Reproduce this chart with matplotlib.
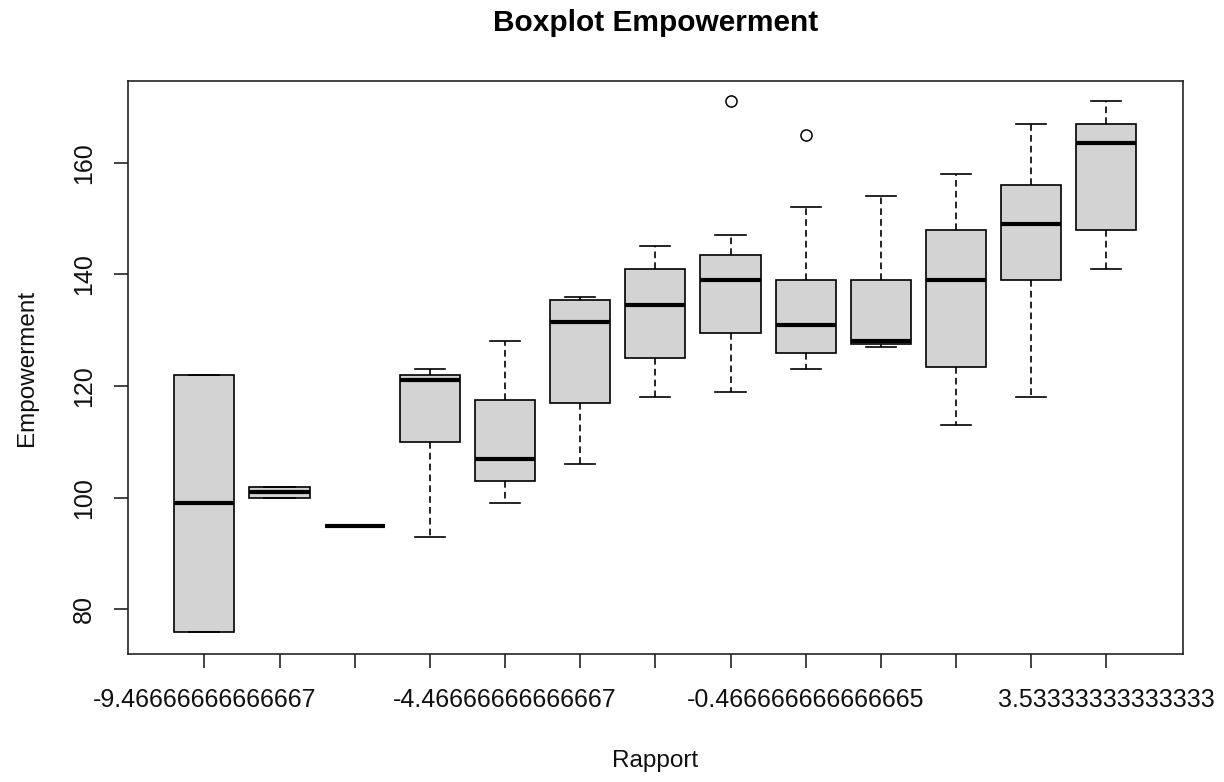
import matplotlib
matplotlib.use("Agg")
import matplotlib.pyplot as plt

# Rapport levels (factor levels on the x axis)
rapport = ["-9.46666666666667", "-7.46666666666667", "-6.46666666666667",
           "-5.46666666666667", "-4.46666666666667", "-3.46666666666667",
           "-2.46666666666667", "-1.46666666666667", "-0.466666666666665",
           "0.533333333333335", "1.53333333333333", "2.53333333333333",
           "3.53333333333333"]

# Five-number summaries of Empowerment per Rapport level
whisker_low = [76, 100, 95, 93, 99, 106, 118, 119, 123, 127, 113, 118, 141]
q1 = [76, 100, 95, 110, 103, 117, 125, 129.5, 126, 127.5, 123.5, 139, 148]
median = [99, 101, 95, 121, 107, 131.5, 134.5, 139, 131, 128, 139, 149, 163.5]
q3 = [122, 102, 95, 122, 117.5, 135.5, 141, 143.5, 139, 139, 148, 156, 167]
whisker_high = [122, 102, 95, 123, 128, 136, 145, 147, 152, 154, 158, 167, 171]
outliers = [[], [], [], [], [], [], [], [171], [165], [], [], [], []]

# Only some level names fit on the axis
shown_labels = [0, 4, 8, 12]
y_ticks = [80, 100, 120, 140, 160]

plt.rcParams["font.family"] = ["Liberation Sans", "DejaVu Sans"]

W, H = 1224, 782
fig = plt.figure(figsize=(W / 100, H / 100), dpi=100)
left, right, top, bottom = 127.7, 1183, 80.7, 654.3
ax = fig.add_axes([left / W, 1 - bottom / H, (right - left) / W, (bottom - top) / H])

stats = []
for i in range(len(rapport)):
    stats.append(dict(med=median[i], q1=q1[i], q3=q3[i],
                      whislo=whisker_low[i], whishi=whisker_high[i],
                      fliers=outliers[i], label=rapport[i]))

positions = list(range(1, len(rapport) + 1))
lw = 1.2
ax.bxp(stats, positions=positions, widths=0.8, patch_artist=True,
       boxprops=dict(facecolor="#D3D3D3", edgecolor="black", linewidth=lw),
       whiskerprops=dict(color="black", linewidth=lw, linestyle=(0, (4, 2.5))),
       capprops=dict(color="black", linewidth=lw),
       medianprops=dict(color="black", linewidth=3.0, solid_capstyle="butt"),
       flierprops=dict(marker="o", markerfacecolor="none", markeredgecolor="black",
                       markersize=8, markeredgewidth=1.1))

n = len(rapport)
ax.set_xlim(0.5 - 0.04 * n, n + 0.5 + 0.04 * n)
ax.set_ylim(71.95, 174.7)

ax.set_xticks(positions)
ax.set_xticklabels([rapport[i] if i in shown_labels else "" for i in range(n)])
ax.set_yticks(y_ticks)
ax.set_yticklabels([str(v) for v in y_ticks])

for s in ax.spines.values():
    s.set_linewidth(lw)
    s.set_color("#222222")

ax.tick_params(axis="both", length=10, width=lw, color="#222222",
               labelsize=18, labelcolor="#111111")
ax.tick_params(axis="x", pad=14)
ax.tick_params(axis="y", pad=21.5)
plt.setp(ax.get_yticklabels(), rotation=90, va="center", ha="center")

fig.text((left + right) / 2 / W, 1 - 23 / H, "Boxplot Empowerment",
         ha="center", va="center", fontsize=21.5, fontweight="bold")
fig.text((left + right) / 2 / W, 1 - 761 / H, "Rapport",
         ha="center", va="center", fontsize=17.5, color="#111111")
fig.text(27 / W, 1 - (top + bottom) / 2 / H, "Empowerment",
         ha="center", va="center", rotation=90, fontsize=17.5, color="#111111")

fig.savefig("out.png", dpi=100)
